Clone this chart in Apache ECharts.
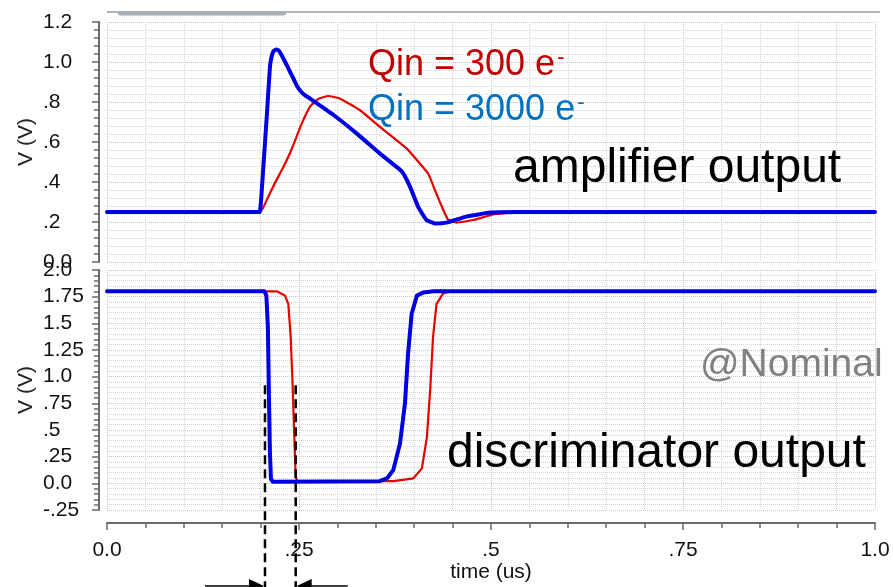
<!DOCTYPE html>
<html><head><meta charset="utf-8">
<script src="https://cdn.jsdelivr.net/npm/echarts@6/dist/echarts.min.js"></script>
<style>html,body{margin:0;padding:0;background:#fff}#c{width:893px;height:587px}</style>
</head><body><div id="c"></div>
<script>
// ---- data (time in us, voltage in V) ----
const ampTime300  = [0, 0.196, 0.200, 0.208, 0.218, 0.230, 0.240, 0.251, 0.258, 0.265, 0.275, 0.288, 0.303, 0.329, 0.355, 0.390, 0.418, 0.427, 0.436, 0.444, 0.455, 0.477, 0.503, 0.533, 0.594];
const ampV300     = [0.25, 0.25, 0.25, 0.31, 0.39, 0.477, 0.56, 0.668, 0.73, 0.78, 0.815, 0.83, 0.818, 0.76, 0.677, 0.568, 0.443, 0.36, 0.277, 0.213, 0.197, 0.21, 0.238, 0.25, 0.255];
const ampTime3000 = [0, 0.196, 0.199, 0.2036, 0.208, 0.2122, 0.2145, 0.217, 0.2205, 0.2235, 0.2265, 0.230, 0.234, 0.238, 0.243, 0.248, 0.253, 0.258, 0.264, 0.295, 0.325, 0.355, 0.384, 0.3945, 0.405, 0.416, 0.427, 0.442, 0.468, 0.499, 0.533, 1.0];
const ampV3000    = [0.25, 0.25, 0.25, 0.477, 0.727, 0.977, 1.03, 1.055, 1.063, 1.058, 1.04, 1.015, 0.985, 0.953, 0.915, 0.876, 0.85, 0.833, 0.818, 0.735, 0.643, 0.543, 0.452, 0.377, 0.277, 0.21, 0.193, 0.197, 0.227, 0.247, 0.25, 0.25];
const discTime300  = [0, 0.221, 0.2318, 0.2361, 0.2392, 0.2418, 0.2439, 0.2457, 0.248, 0.373, 0.399, 0.410, 0.4166, 0.421, 0.4245, 0.429, 0.4375, 0.447, 1.0];
const discV300     = [1.8, 1.8, 1.76, 1.68, 1.37, 0.9, 0.435, 0.06, 0.02, 0.02, 0.047, 0.14, 0.435, 0.9, 1.37, 1.68, 1.78, 1.8, 1.8];
const discTime3000 = [0, 0.205, 0.2075, 0.2095, 0.2108, 0.2122, 0.2135, 0.216, 0.355, 0.365, 0.3728, 0.3815, 0.388, 0.392, 0.3967, 0.4035, 0.412, 0.425, 1.0];
const discV3000    = [1.8, 1.8, 1.76, 1.46, 0.84, 0.28, 0.04, 0.015, 0.02, 0.05, 0.125, 0.374, 0.75, 1.215, 1.59, 1.76, 1.79, 1.8, 1.8];
const markerTimes = [0.2057, 0.2457];
const markerTopV = 0.92;
const xTickLabels = ['0.0', '.25', '.5', '.75', '1.0'];
const ampTickLabels = ['0.0', '.2', '.4', '.6', '.8', '1.0', '1.2'];
const discTickLabels = ['-.25', '0.0', '.25', '.5', '.75', '1.0', '1.25', '1.5', '1.75', '2.0'];

// ---- chart ----
const zip = (t, v) => t.map((x, i) => [x, v[i]]);
const fmt = (labels, min, step) => v => { const i = Math.round((v - min) / step); return labels[i] !== undefined ? labels[i] : ''; };
const FONT = 'Liberation Sans, Arial, Helvetica, sans-serif';
const AX = '#6a6a6a';
const gridLine = { show: true, lineStyle: { color: '#c4c4c4', type: 'dotted', width: 1 } };
const minorGridLine = { show: true, lineStyle: { color: '#d4d4d4', type: 'dotted', width: 1 } };
const lblStyle = { fontSize: 21, color: '#111', fontFamily: FONT };
const RED = '#e60000', BLUE = '#0000e0';

function yAxisCfg(grid, min, max, interval, labels) {
  return {
    type: 'value', gridIndex: grid, min: min, max: max, interval: interval, offset: 8,
    axisLine: { show: true, onZero: false, lineStyle: { color: AX, width: 2 } },
    axisTick: { show: true, length: 7, lineStyle: { color: AX, width: 1.5 } },
    minorTick: { show: true, splitNumber: 5, length: 5, lineStyle: { color: AX, width: 1.5 } },
    axisLabel: Object.assign({ align: 'left', margin: 56, hideOverlap: false, formatter: fmt(labels, min, interval) }, lblStyle),
    splitLine: gridLine, minorSplitLine: minorGridLine,
    name: 'V (V)', nameLocation: 'middle', nameGap: 62, nameMoveOverlap: false,
    nameTextStyle: Object.assign({}, lblStyle, { color: '#222' })
  };
}

const chart = echarts.init(document.getElementById('c'), null, { renderer: 'canvas' });
const option = {
  animation: false,
  backgroundColor: '#fff',
  grid: [
    { left: 107, top: 22, width: 768, height: 240 },
    { left: 107, top: 270, width: 768, height: 240 }
  ],
  xAxis: [
    { type: 'value', gridIndex: 0, min: 0, max: 1, interval: 0.25,
      axisLine: { show: false }, axisTick: { show: false }, axisLabel: { show: false },
      minorTick: { show: false, splitNumber: 5 }, splitLine: gridLine, minorSplitLine: minorGridLine },
    { type: 'value', gridIndex: 1, min: 0, max: 1, interval: 0.25, position: 'bottom', offset: 13,
      axisLine: { show: true, onZero: false, lineStyle: { color: AX, width: 2 } },
      axisTick: { show: true, length: 7, lineStyle: { color: AX, width: 1.5 } },
      minorTick: { show: true, splitNumber: 5, length: 5, lineStyle: { color: AX, width: 1.5 } },
      axisLabel: Object.assign({ margin: 17, formatter: fmt(xTickLabels, 0, 0.25) }, lblStyle),
      splitLine: gridLine, minorSplitLine: minorGridLine,
      name: 'time (us)', nameLocation: 'middle', nameGap: 39, nameTextStyle: lblStyle }
  ],
  yAxis: [
    yAxisCfg(0, 0, 1.2, 0.2, ampTickLabels),
    yAxisCfg(1, -0.25, 2, 0.25, discTickLabels)
  ],
  series: [
    { name: 'amp300', type: 'line', xAxisIndex: 0, yAxisIndex: 0, data: zip(ampTime300, ampV300),
      symbol: 'none', smooth: 0.12, lineStyle: { color: RED, width: 2.2, join: 'round', cap: 'round' }, z: 2 },
    { name: 'amp3000', type: 'line', xAxisIndex: 0, yAxisIndex: 0, data: zip(ampTime3000, ampV3000),
      symbol: 'none', smooth: 0.12, lineStyle: { color: BLUE, width: 4, join: 'round', cap: 'round' }, z: 3 },
    { name: 'disc300', type: 'line', xAxisIndex: 1, yAxisIndex: 1, data: zip(discTime300, discV300),
      symbol: 'none', lineStyle: { color: RED, width: 2.2, join: 'round', cap: 'round' }, z: 2 },
    { name: 'disc3000', type: 'line', xAxisIndex: 1, yAxisIndex: 1, data: zip(discTime3000, discV3000),
      symbol: 'none', lineStyle: { color: BLUE, width: 4, join: 'round', cap: 'round' }, z: 3 }
  ]
};
chart.setOption(option);

// ---- annotations ----
const g = [];
g.push({ type: 'line', shape: { x1: 107, y1: 12, x2: 880, y2: 12 }, style: { stroke: '#9a9a9a', lineWidth: 1.5 }, z: 10 });
g.push({ type: 'rect', shape: { x: 118, y: 11, width: 168, height: 4.5, r: 2.2 }, style: { fill: '#a6aeb6' }, z: 11 });
g.push({ type: 'text', x: 368, y: 65, z: 20, style: { text: '{a|Qin = 300 e}{s|-}', fill: '#c00000', textVerticalAlign: 'middle',
  rich: { a: { fontSize: 36, fontFamily: FONT, fill: '#c00000' }, s: { fontSize: 22, fontFamily: FONT, fill: '#c00000', verticalAlign: 'top', padding: [0, 0, 0, 2] } } } });
g.push({ type: 'text', x: 368, y: 110, z: 20, style: { text: '{a|Qin = 3000 e}{s|-}', fill: '#0070c0', textVerticalAlign: 'middle',
  rich: { a: { fontSize: 36, fontFamily: FONT, fill: '#0070c0' }, s: { fontSize: 22, fontFamily: FONT, fill: '#0070c0', verticalAlign: 'top', padding: [0, 0, 0, 2] } } } });
g.push({ type: 'text', x: 513, y: 169, z: 20, style: { text: 'amplifier output', font: '48px ' + FONT, fill: '#000', textVerticalAlign: 'middle' } });
g.push({ type: 'text', x: 447, y: 454, z: 20, style: { text: 'discriminator output', font: '48px ' + FONT, fill: '#000', textVerticalAlign: 'middle' } });
g.push({ type: 'text', x: 700, y: 365, z: 20, style: { text: '@Nominal', font: '39px ' + FONT, fill: '#808080', textVerticalAlign: 'middle' } });

const yTop = chart.convertToPixel({ yAxisIndex: 1 }, markerTopV);
const xs = markerTimes.map(t => chart.convertToPixel({ xAxisIndex: 1 }, t));
xs.forEach(x => {
  g.push({ type: 'line', shape: { x1: x, y1: yTop, x2: x, y2: 590 }, style: { stroke: '#000', lineWidth: 2.5, lineDash: [9, 5] }, z: 30 });
});
const ay = 586;
g.push({ type: 'line', shape: { x1: xs[0] - 60, y1: ay, x2: xs[0] - 8, y2: ay }, style: { stroke: '#000', lineWidth: 1.5 }, z: 30 });
g.push({ type: 'polygon', shape: { points: [[xs[0] - 1, ay], [xs[0] - 16, ay - 7], [xs[0] - 16, ay + 7]] }, style: { fill: '#000' }, z: 30 });
g.push({ type: 'line', shape: { x1: xs[1] + 8, y1: ay, x2: xs[1] + 52, y2: ay }, style: { stroke: '#000', lineWidth: 1.5 }, z: 30 });
g.push({ type: 'polygon', shape: { points: [[xs[1] + 1, ay], [xs[1] + 16, ay - 7], [xs[1] + 16, ay + 7]] }, style: { fill: '#000' }, z: 30 });
chart.setOption({ graphic: g });
</script>
</body></html>
